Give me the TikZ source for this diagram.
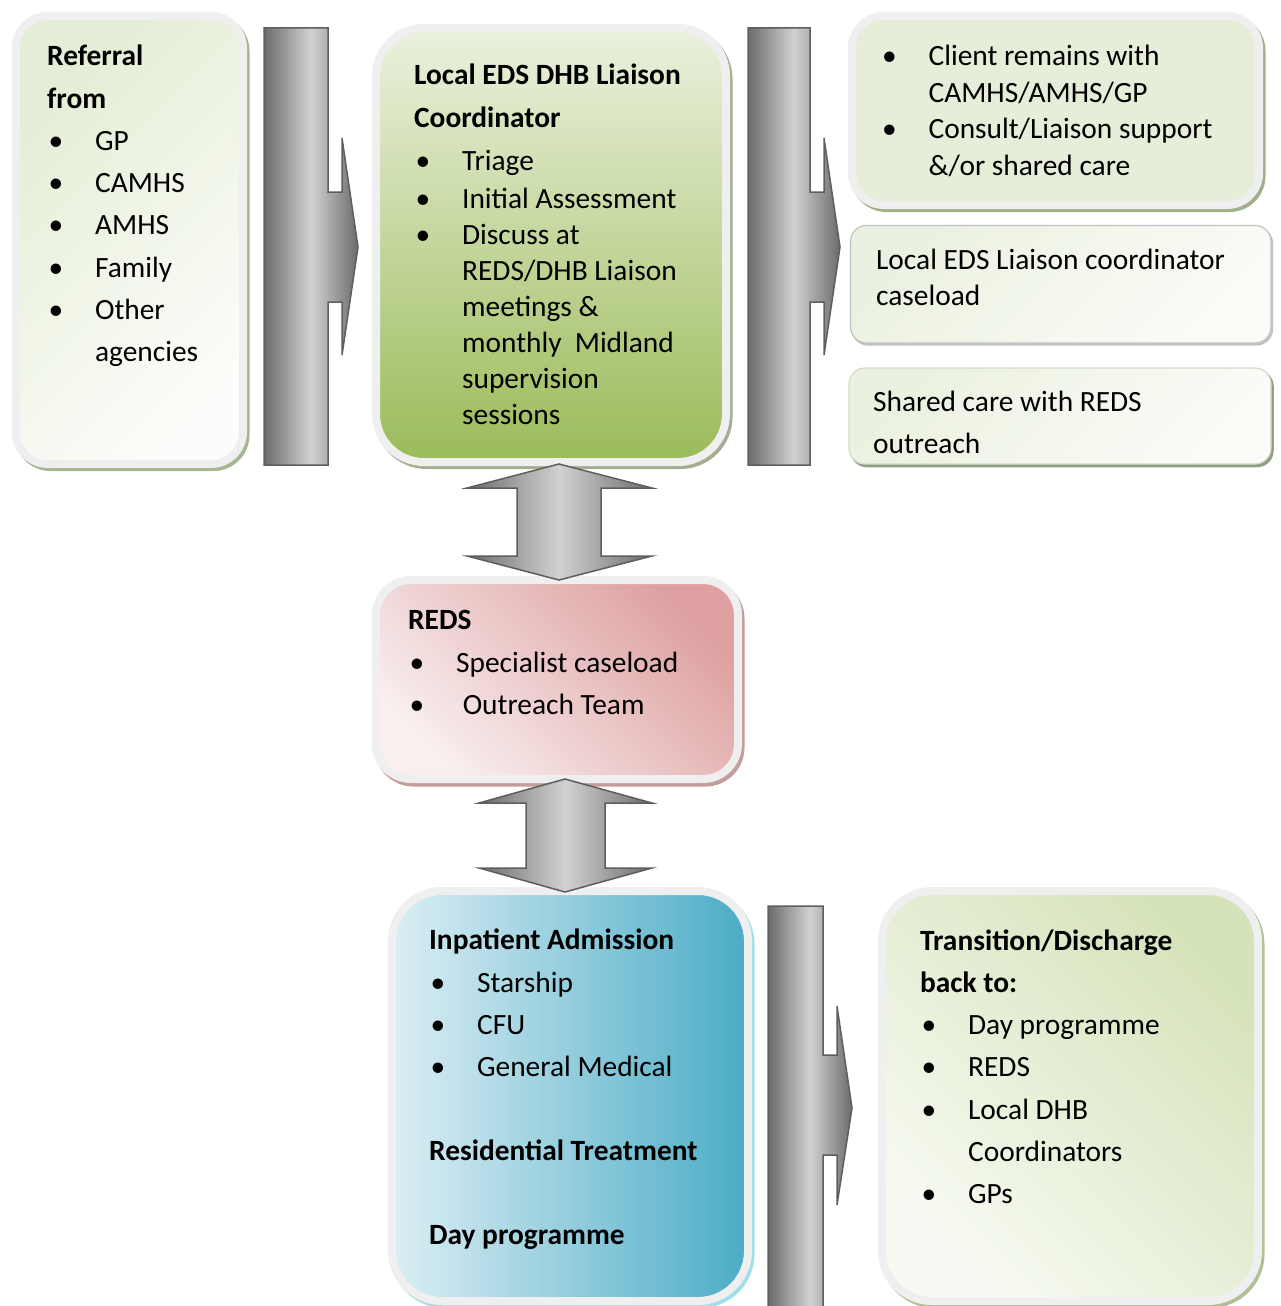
\documentclass[tikz,border=0pt]{standalone}
\usepackage{fontspec}
\setmainfont{Carlito}

\definecolor{rimGrey}{HTML}{EFEFEF}
\definecolor{refTop}{HTML}{E4EDD5}
\definecolor{refBot}{HTML}{FCFDFA}
\definecolor{refShadow}{HTML}{A5B58F}
\definecolor{coordTop}{HTML}{EBF1DE}
\definecolor{coordBot}{HTML}{9BBB59}
\definecolor{coordShadow}{HTML}{A3AE92}
\definecolor{clientFill}{HTML}{E6EDD8}
\definecolor{clientShadow}{HTML}{A1B08B}
\definecolor{caseTop}{HTML}{EBF1E0}
\definecolor{caseBot}{HTML}{FAFCF7}
\definecolor{caseEdge}{HTML}{C2C2C2}
\definecolor{sharedEdge}{HTML}{D5DBC8}
\definecolor{sharedShadow}{HTML}{929E84}
\definecolor{redsTop}{HTML}{DEA0A0}
\definecolor{redsBot}{HTML}{F9EFEF}
\definecolor{redsShadow}{HTML}{C39C9C}
\definecolor{inpLeft}{HTML}{DCEEF4}
\definecolor{inpRight}{HTML}{4BACC6}
\definecolor{inpShadow}{HTML}{9FE0E8}
\definecolor{transTop}{HTML}{D5E3BA}
\definecolor{transBot}{HTML}{F7FAF2}
\definecolor{transShadow}{HTML}{B0C095}
\definecolor{arrowDark}{HTML}{6B6B6B}
\definecolor{arrowLight}{HTML}{D2D2D2}
\definecolor{arrowEdge}{HTML}{5E5E5E}

\newcommand{\bul}{\makebox[48pt][l]{\hspace{1.5pt}\textbullet}}

\tikzset{every picture/.style={line width=0.75pt}}
\tikzset{
  rim/.style={draw=rimGrey, line width=8pt, rounded corners=#1},
  shadowrim/.style={line width=8pt, rounded corners=#1},
  greyarrow/.style={draw=arrowEdge, line width=1.5pt, left color=arrowDark, right color=arrowDark, middle color=arrowLight},
  txt/.style={anchor=north west, inner sep=0.75pt, align=left, font=\fontsize{29.4}{#1}\selectfont}
}

\begin{document}
\begin{tikzpicture}[x=1pt,y=1pt,yscale=-1,xscale=1]
\useasboundingbox (0,0) rectangle (1280,1306);

%Shape: Rounded Rect [referral]
\draw [shadowrim=32, draw=refShadow, fill=refShadow] (18.5,19) rectangle (245.5,467);
\draw [rim=32, top color=refTop, bottom color=refBot, shading angle=45] (16,16) rectangle (243,464);
%Shape: Rounded Rect [coordinator]
\draw [shadowrim=48, draw=coordShadow, fill=coordShadow] (378.5,31) rectangle (728.5,465);
\draw [rim=48, top color=coordTop, bottom color=coordBot] (376,28) rectangle (726,462);
%Shape: Rounded Rect [client]
\draw [shadowrim=32, draw=clientShadow, fill=clientShadow] (854.5,19) rectangle (1261.5,208);
\draw [rim=32, fill=clientFill] (852,16) rectangle (1259,205);
%Shape: Rounded Rect [caseload]
\draw [rounded corners=16, draw=caseEdge, fill=caseEdge, line width=1.2pt] (852,227.5) rectangle (1272.5,345);
\draw [rounded corners=16, draw=caseEdge, line width=1.2pt, top color=caseTop, bottom color=caseBot, shading angle=45] (850.5,225.5) rectangle (1271,343);
%Shape: Rounded Rect [shared care]
\draw [rounded corners=16, draw=sharedShadow, fill=sharedShadow, line width=1.5pt] (851,370.5) rectangle (1273,466.5);
\draw [rounded corners=16, draw=sharedEdge, line width=1.2pt, top color=caseTop, bottom color=caseBot, shading angle=45] (849,368) rectangle (1271,464);
%Shape: Rounded Rect [reds]
\draw [shadowrim=35, draw=redsShadow, fill=redsShadow] (378.5,583.5) rectangle (740.5,782.5);
\draw [rim=35, top color=redsTop, bottom color=redsBot, shading angle=-45] (376,580) rectangle (738,779);
%Shape: Rounded Rect [inpatient]
\draw [shadowrim=50, draw=inpShadow, fill=inpShadow] (394.5,894) rectangle (750.5,1304);
\draw [rim=50, left color=inpLeft, right color=inpRight] (392,891) rectangle (748,1301);
%Shape: Rounded Rect [transition]
\draw [shadowrim=50, draw=transShadow, fill=transShadow] (884.5,894) rectangle (1260.5,1304);
\draw [rim=50, top color=transTop, bottom color=transBot, shading angle=-45] (882,891) rectangle (1258,1301);

%Shape: Right Arrow [referral -> coordinator]
\draw [greyarrow] (264,28) -- (328,28) -- (328,192) -- (342,192) -- (342,138) -- (358,247) -- (342,355) -- (342,302) -- (328,302) -- (328,465) -- (264,465) -- cycle ;
%Shape: Right Arrow [coordinator -> outcomes]
\draw [greyarrow] (748,28) -- (810,28) -- (810,192) -- (824,192) -- (824,138) -- (840,247) -- (824,355) -- (824,302) -- (810,302) -- (810,465) -- (748,465) -- cycle ;
%Shape: Right Arrow [inpatient -> transition]
\draw [greyarrow] (768,906) -- (823,906) -- (823,1055) -- (837,1055) -- (837,1006) -- (852,1108) -- (837,1205) -- (837,1155) -- (823,1155) -- (823,1320) -- (768,1320) -- cycle ;
%Shape: Up Down Arrow [coordinator <-> reds]
\draw [greyarrow] (559,464) -- (652,488) -- (601,488) -- (601,556) -- (652,556) -- (559,580) -- (467,556) -- (517,556) -- (517,488) -- (467,488) -- cycle ;
%Shape: Up Down Arrow [reds <-> inpatient]
\draw [greyarrow] (565,779) -- (652,803) -- (605,803) -- (605,868) -- (652,868) -- (565,892) -- (479,868) -- (526,868) -- (526,803) -- (479,803) -- cycle ;

% Text Node
\draw (46,44) node (refTxt) [txt=42.3] {\textbf{Referral}\\\textbf{from}\\\bul GP\\\bul CAMHS\\\bul AMHS\\\bul Family\\\bul Other\\\hspace{48pt}agencies};
% Text Node
\draw (413,63) node (coordTxt) [txt=36] {\textbf{Local EDS DHB Liaison}\\[6.7pt]\textbf{Coordinator}\\[7pt]\bul Triage\\[2pt]\bul Initial Assessment\\\bul Discuss at\\\hspace{48pt}REDS/DHB Liaison\\\hspace{48pt}meetings \&\\\hspace{48pt}monthly\ \ Midland\\\hspace{48pt}supervision\\\hspace{48pt}sessions};
% Text Node
\draw (879.5,44) node (clientTxt) [txt=36.6] {\bul Client remains with\\\hspace{48pt}CAMHS/AMHS/GP\\\bul Consult/Liaison support\\\hspace{48pt}\&/or shared care};
% Text Node
\draw (875,248) node (caseTxt) [txt=35.5] {Local EDS Liaison coordinator\\caseload};
% Text Node
\draw (872,390) node (sharedTxt) [txt=41.5] {Shared care with REDS\\outreach};
% Text Node
\draw (407,609.5) node (redsTxt) [txt=42.5] {\textbf{REDS}\\\bul Specialist caseload\\\bul\ Outreach Team};
% Text Node
\draw (428,928) node (inpTxt) [txt=42.2] {\textbf{Inpatient Admission}\\\bul Starship\\\bul CFU\\\bul General Medical\\[42pt]\textbf{Residential Treatment}\\[41.5pt]\textbf{Day programme}};
% Text Node
\draw (919,928.5) node (transTxt) [txt=42.2] {\textbf{Transition/Discharge}\\\textbf{back to:}\\\bul Day programme\\\bul REDS\\\bul Local DHB\\\hspace{48pt}Coordinators\\\bul GPs};

\end{tikzpicture}
\end{document}
